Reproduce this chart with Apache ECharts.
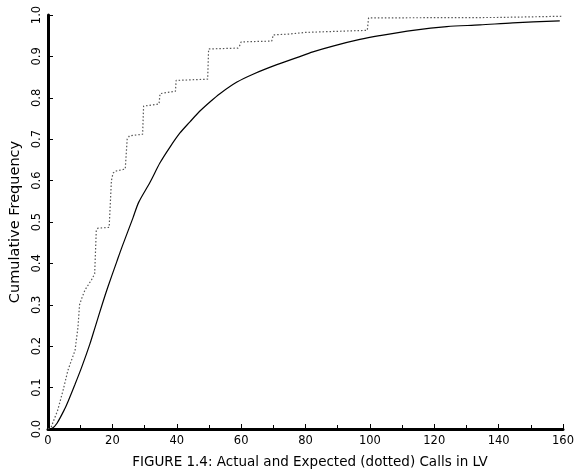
<!DOCTYPE html>
<html>
<head>
<meta charset="utf-8">
<script src="https://cdn.jsdelivr.net/npm/echarts@6/dist/echarts.min.js"></script>
<style>
html,body{margin:0;padding:0;background:#fff;}
#chart{width:584px;height:474px;}
</style>
</head>
<body>
<div id="chart"></div>
<script>
// Expected (solid) cumulative frequency: [calls, frequency]
const expectedX = [0,1.2,2.8,5.3,6.2,8.4,10.5,13,14.6,17,18.6,21.4,23,26.4,28.2,31.7,34.8,37.9,41,44.1,47.2,50.3,53.4,58.7,63.7,71.1,77.3,82.3,88.5,96.9,103,113.4,123.9,134.2,144.4,159];
const expectedY = [0,0.001,0.014,0.05,0.066,0.108,0.15,0.205,0.245,0.305,0.343,0.405,0.44,0.51,0.548,0.596,0.643,0.681,0.715,0.742,0.768,0.79,0.81,0.838,0.857,0.88,0.897,0.911,0.925,0.941,0.95,0.963,0.972,0.976,0.981,0.986];
// Actual (dotted) cumulative frequency
const actualX = [0,1,3,4.7,6.2,8.4,9.3,9.8,10.5,11.5,13.5,14.5,15,15.5,19,19.7,20.2,21,24,24.6,25.3,29.4,29.7,30.3,34.5,34.8,35.3,39.6,39.8,49.6,49.9,59,59.5,60,69.5,70,75,75.5,80,80.5,99.2,99.6,139.5,140,160];
const actualY = [0,0.005,0.045,0.094,0.142,0.19,0.245,0.30,0.316,0.336,0.36,0.375,0.48,0.485,0.487,0.6,0.618,0.623,0.628,0.70,0.708,0.712,0.78,0.783,0.785,0.81,0.814,0.816,0.842,0.845,0.918,0.92,0.925,0.935,0.937,0.952,0.954,0.957,0.958,0.961,0.963,0.993,0.994,0.996,0.997];
const xTicks = [0,20,40,60,80,100,120,140,160];
const yTicks = [0,0.1,0.2,0.3,0.4,0.5,0.6,0.7,0.8,0.9,1.0];
const yTitle = 'Cumulative Frequency';
const caption = 'FIGURE 1.4: Actual and Expected (dotted) Calls in LV';

const font = 'DejaVu Sans';
const chart = echarts.init(document.getElementById('chart'), null, {renderer:'canvas'});
chart.setOption({
  animation:false,
  backgroundColor:'#fff',
  title:{
    text:caption, left:305, textAlign:'center', top:450,
    textStyle:{fontFamily:font, fontSize:13.5, fontWeight:'normal', color:'#000'}
  },
  grid:{left:48, right:21, top:15, bottom:45, containLabel:false},
  xAxis:{
    type:'value', min:xTicks[0], max:xTicks[xTicks.length-1], interval:20,
    axisLine:{show:true, lineStyle:{color:'#000', width:3}},
    axisTick:{show:true, inside:true, length:5, lineStyle:{color:'#000', width:1}},
    minorTick:{show:true, splitNumber:2, length:4, lineStyle:{color:'#000', width:1}},
    splitLine:{show:false},
    axisLabel:{color:'#000', fontFamily:font, fontSize:11.5, margin:6}
  },
  yAxis:{
    type:'value', min:yTicks[0], max:yTicks[yTicks.length-1], interval:0.1,
    name:yTitle, nameLocation:'middle', nameGap:21, nameRotate:90,
    nameTextStyle:{color:'#000', fontFamily:font, fontSize:14.5},
    axisLine:{show:true, lineStyle:{color:'#000', width:3}},
    axisTick:{show:true, inside:true, length:5, lineStyle:{color:'#000', width:1}},
    splitLine:{show:false},
    axisLabel:{color:'#000', fontFamily:font, fontSize:11.5, rotate:90, margin:5,
      formatter:v=>v.toFixed(1)}
  },
  series:[
    {type:'line', data:expectedX.map((x,i)=>[x,expectedY[i]]), showSymbol:false, smooth:0.3,
     lineStyle:{color:'#000', width:1.2}},
    {type:'line', data:actualX.map((x,i)=>[x,actualY[i]]), showSymbol:false,
     lineStyle:{color:'#555', width:1.2, type:[1.5,2]}}
  ]
});
</script>
</body>
</html>
